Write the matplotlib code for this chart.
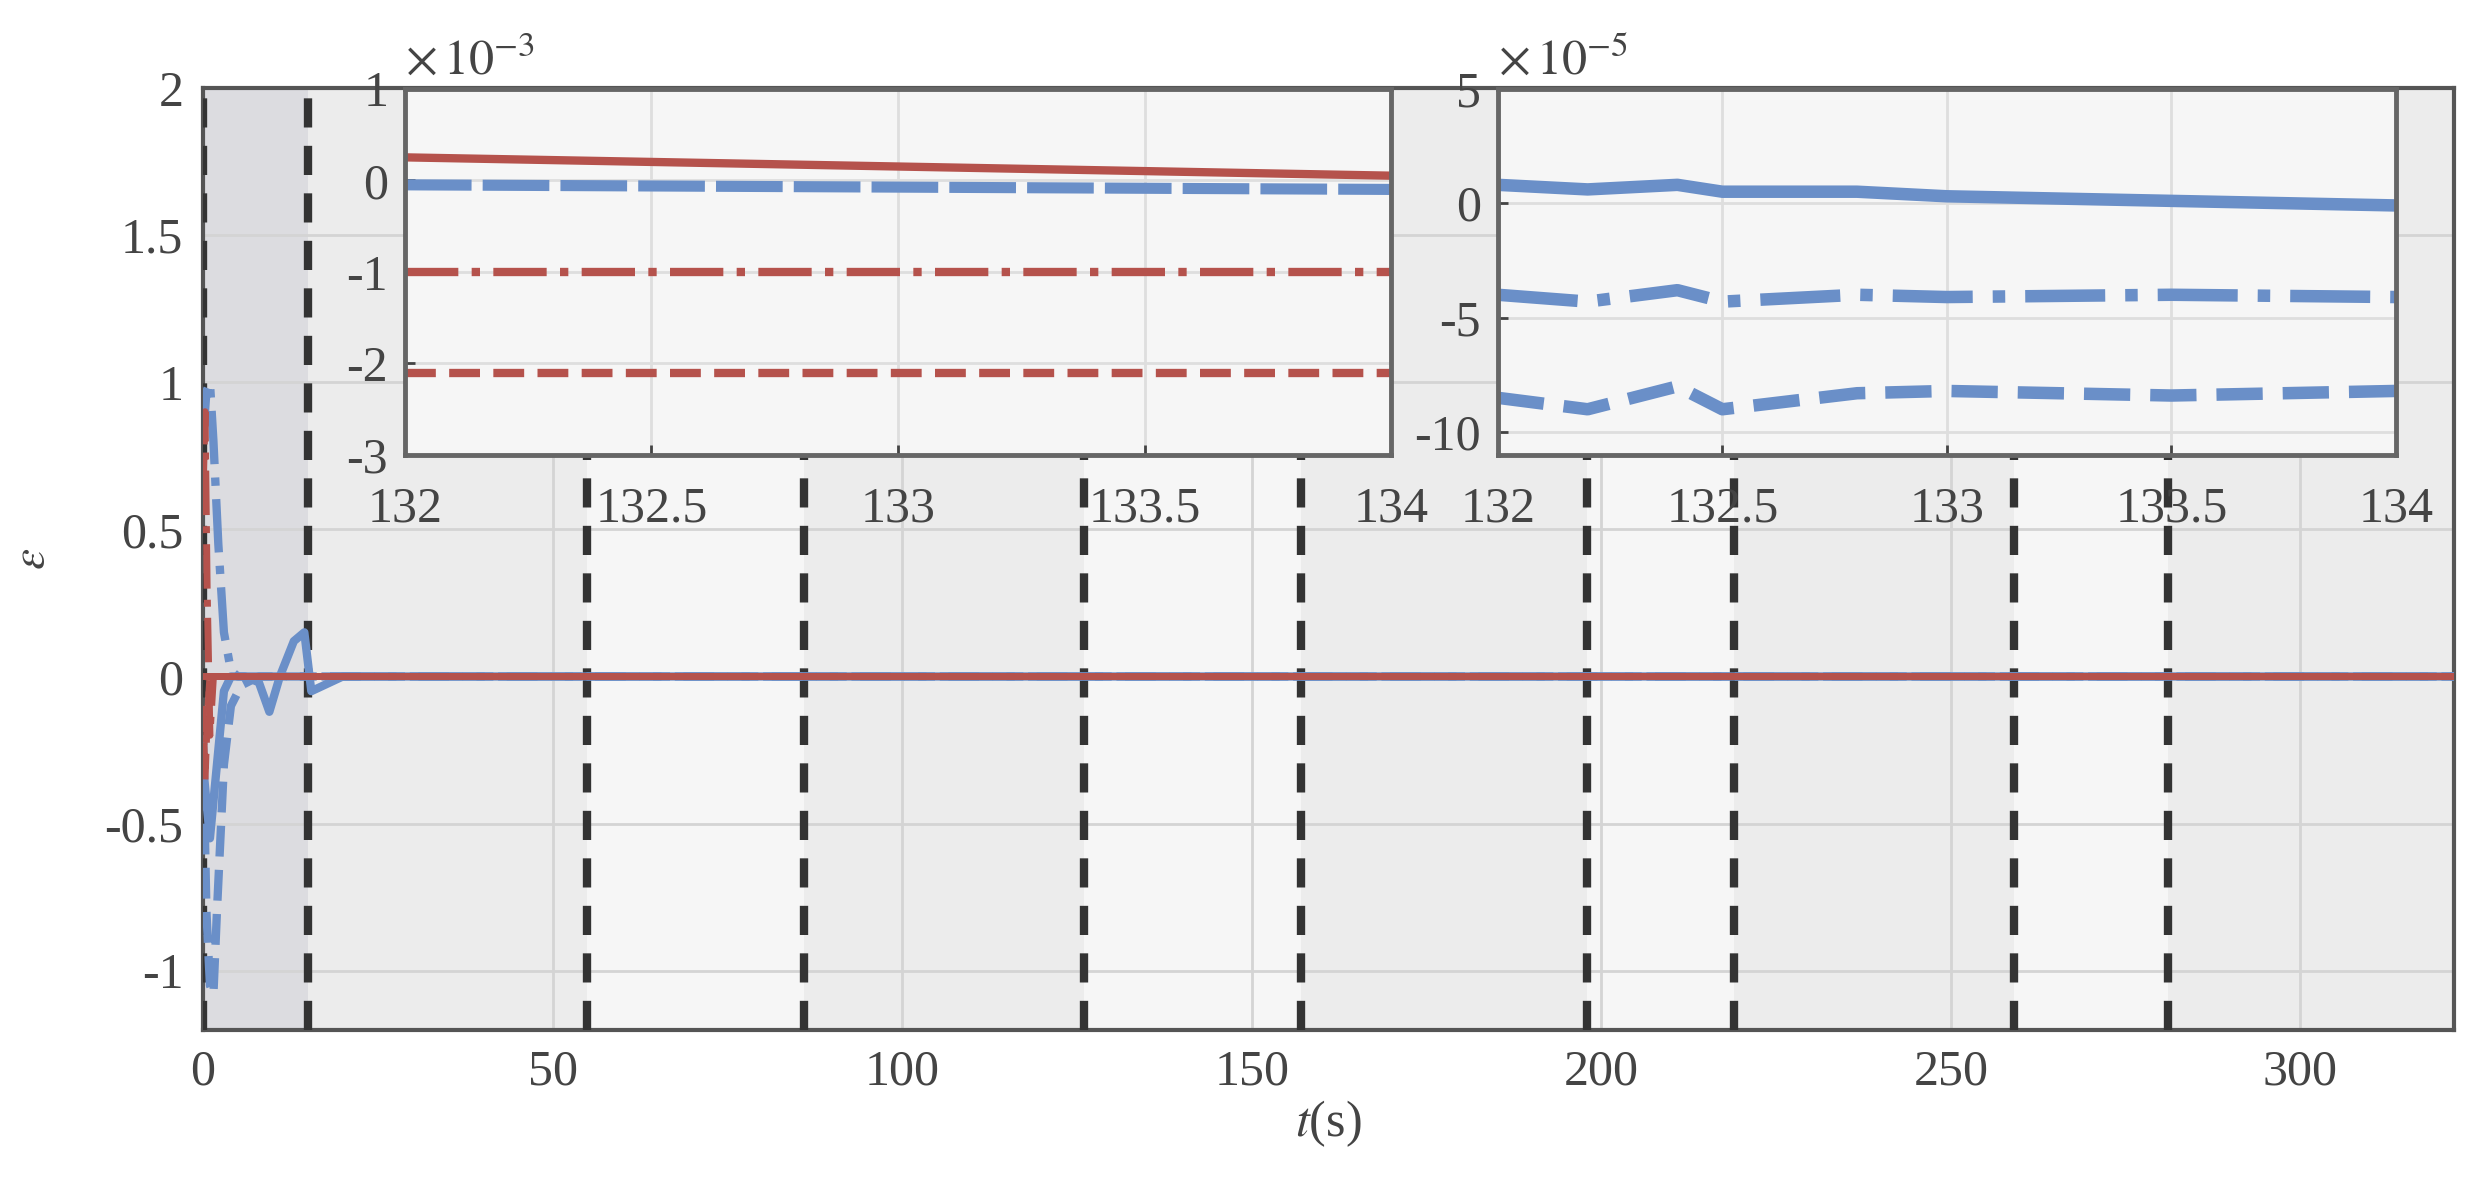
import numpy as np
import matplotlib.pyplot as plt

plt.rcParams['font.family'] = ['Liberation Serif', 'DejaVu Serif']
plt.rcParams['mathtext.fontset'] = 'stix'

# switching instants (dashed lines) and band shades
switch_t = [0, 15, 55, 86, 126, 157, 198, 219, 259, 281, 322]
band_col = ['#dcdce0', '#ececec', '#f6f6f6', '#ececec', '#f6f6f6',
            '#ececec', '#f6f6f6', '#ececec', '#f6f6f6', '#ececec']

# main transients
t_dd = [0, 0.5, 1.0, 1.5, 2.2, 3.0, 4.0, 5.0, 8, 15, 322]
e_dd = [0.8, 0.97, 1.0, 0.8, 0.45, 0.15, 0.02, 0.0, 0.0, 0.0, 0.0]
t_da = [0, 0.5, 1.0, 1.5, 2.0, 3.0, 4.0, 5.5, 8, 15, 322]
e_da = [-0.2, -0.8, -1.05, -1.08, -0.8, -0.3, -0.1, -0.03, 0.0, 0.0, 0.0]
t_bs = [0, 1, 2, 3, 4, 6, 8, 9.5, 11, 13, 14.5, 15.5, 20, 322]
e_bs = [-0.3, -0.55, -0.3, -0.05, 0.0, 0.0, -0.02, -0.12, 0.0, 0.12, 0.15, -0.05, 0.0, 0.0]
t_r1 = [0, 0.3, 0.6, 1.0, 1.5, 322]
e_r1 = [0.6, 0.9, 0.3, -0.2, 0.0, 0.0]
t_r2 = [0, 0.3, 0.6, 1.0, 1.5, 322]
e_r2 = [-0.1, -0.35, -0.15, 0.0, 0.0, 0.0]

# inset 1 (x 1e-3)
z_t = [132, 134]
z1_red_solid = [0.25, 0.05]
z1_blue = [-0.05, -0.1]
z1_red_dashdot = [-1.0, -1.0]
z1_red_dash = [-2.1, -2.1]

# inset 2 (x 1e-5)
z2_t = [132, 132.2, 132.4, 132.5, 132.8, 133.0, 133.5, 134]
z2_a = [0.8, 0.6, 0.8, 0.5, 0.5, 0.3, 0.1, -0.1]
z2_b = [-4.0, -4.3, -3.8, -4.3, -4.0, -4.1, -4.0, -4.1]
z2_c = [-8.5, -9.0, -8.0, -9.0, -8.3, -8.2, -8.4, -8.2]

red = '#b5524c'
blue = '#6a8fc8'
tc = '#444444'

fig = plt.figure(figsize=(24.84, 11.82), dpi=100)
ax = fig.add_axes([0.0817, 0.129, 0.9063, 0.7965])
for i in range(len(band_col)):
    ax.axvspan(switch_t[i], switch_t[i + 1], color=band_col[i], zorder=0, lw=0)
ax.grid(True, color='#d4d4d4', lw=2, zorder=1)
ax.set_axisbelow(True)
for s in switch_t[:-1]:
    ax.axvline(s, color='#333333', ls=(0, (3.5, 2.2)), lw=6, zorder=3)

ax.plot(t_dd, e_dd, color=blue, ls='-.', lw=6, zorder=4)
ax.plot(t_da, e_da, color=blue, ls='--', lw=6, zorder=4)
ax.plot(t_bs, e_bs, color=blue, ls='-', lw=6, zorder=4)
ax.plot(t_r1, e_r1, color=red, ls='-.', lw=5, zorder=4)
ax.plot(t_r2, e_r2, color=red, ls='--', lw=5, zorder=4)
ax.plot([0, 322], [0, 0], color=red, ls='-', lw=5, zorder=5)

ax.set_xlim(0, 322)
ax.set_ylim(-1.2, 2)
ax.set_xticks([0, 50, 100, 150, 200, 250, 300])
ax.set_yticks([-1, -0.5, 0, 0.5, 1, 1.5, 2])
ax.set_yticklabels(['-1', '-0.5', '0', '0.5', '1', '1.5', '2'])
ax.tick_params(labelsize=36, colors=tc, length=0, pad=14)
for sp in ax.spines.values():
    sp.set_color('#555555')
    sp.set_linewidth(3)
ax.set_xlabel(r'$t$(s)', fontsize=36, color=tc, labelpad=2)
ax.set_ylabel(r'$\epsilon$', fontsize=34, color=tc, labelpad=36)


def inset(rect, exp, ylim, yticks):
    a = fig.add_axes(rect)
    a.set_facecolor('#f6f6f6')
    a.grid(True, color='#dedede', lw=2)
    a.set_axisbelow(True)
    a.set_xlim(132, 134)
    a.set_ylim(*ylim)
    a.set_xticks([132, 132.5, 133, 133.5, 134])
    a.set_xticklabels(['132', '132.5', '133', '133.5', '134'])
    a.set_yticks(yticks)
    a.set_yticklabels([str(v) for v in yticks])
    a.tick_params(labelsize=36, colors=tc, length=7, width=2, direction='in', pad=12)
    a.tick_params(axis='x', pad=22)
    for sp in a.spines.values():
        sp.set_color('#666666')
        sp.set_linewidth(3.5)
    a.text(0.0, 1.01, r'$\times\,10^{%d}$' % exp, transform=a.transAxes,
           fontsize=36, color=tc, ha='left', va='bottom')
    return a


a1 = inset([0.163, 0.615, 0.397, 0.31], -3, (-3, 1), [-3, -2, -1, 0, 1])
a1.plot(z_t, z1_red_solid, color=red, lw=6)
a1.plot(z_t, z1_blue, color=blue, lw=8, ls=(0, (6, 1)))
a1.plot(z_t, z1_red_dashdot, color=red, lw=6, ls='-.')
a1.plot(z_t, z1_red_dash, color=red, lw=6, ls='--')

a2 = inset([0.603, 0.615, 0.3615, 0.31], -5, (-11, 5), [-10, -5, 0, 5])
a2.plot(z2_t, z2_a, color=blue, lw=9)
a2.plot(z2_t, z2_b, color=blue, lw=9, ls='-.')
a2.plot(z2_t, z2_c, color=blue, lw=9, ls='--')

fig.savefig('out.png', dpi=100)
